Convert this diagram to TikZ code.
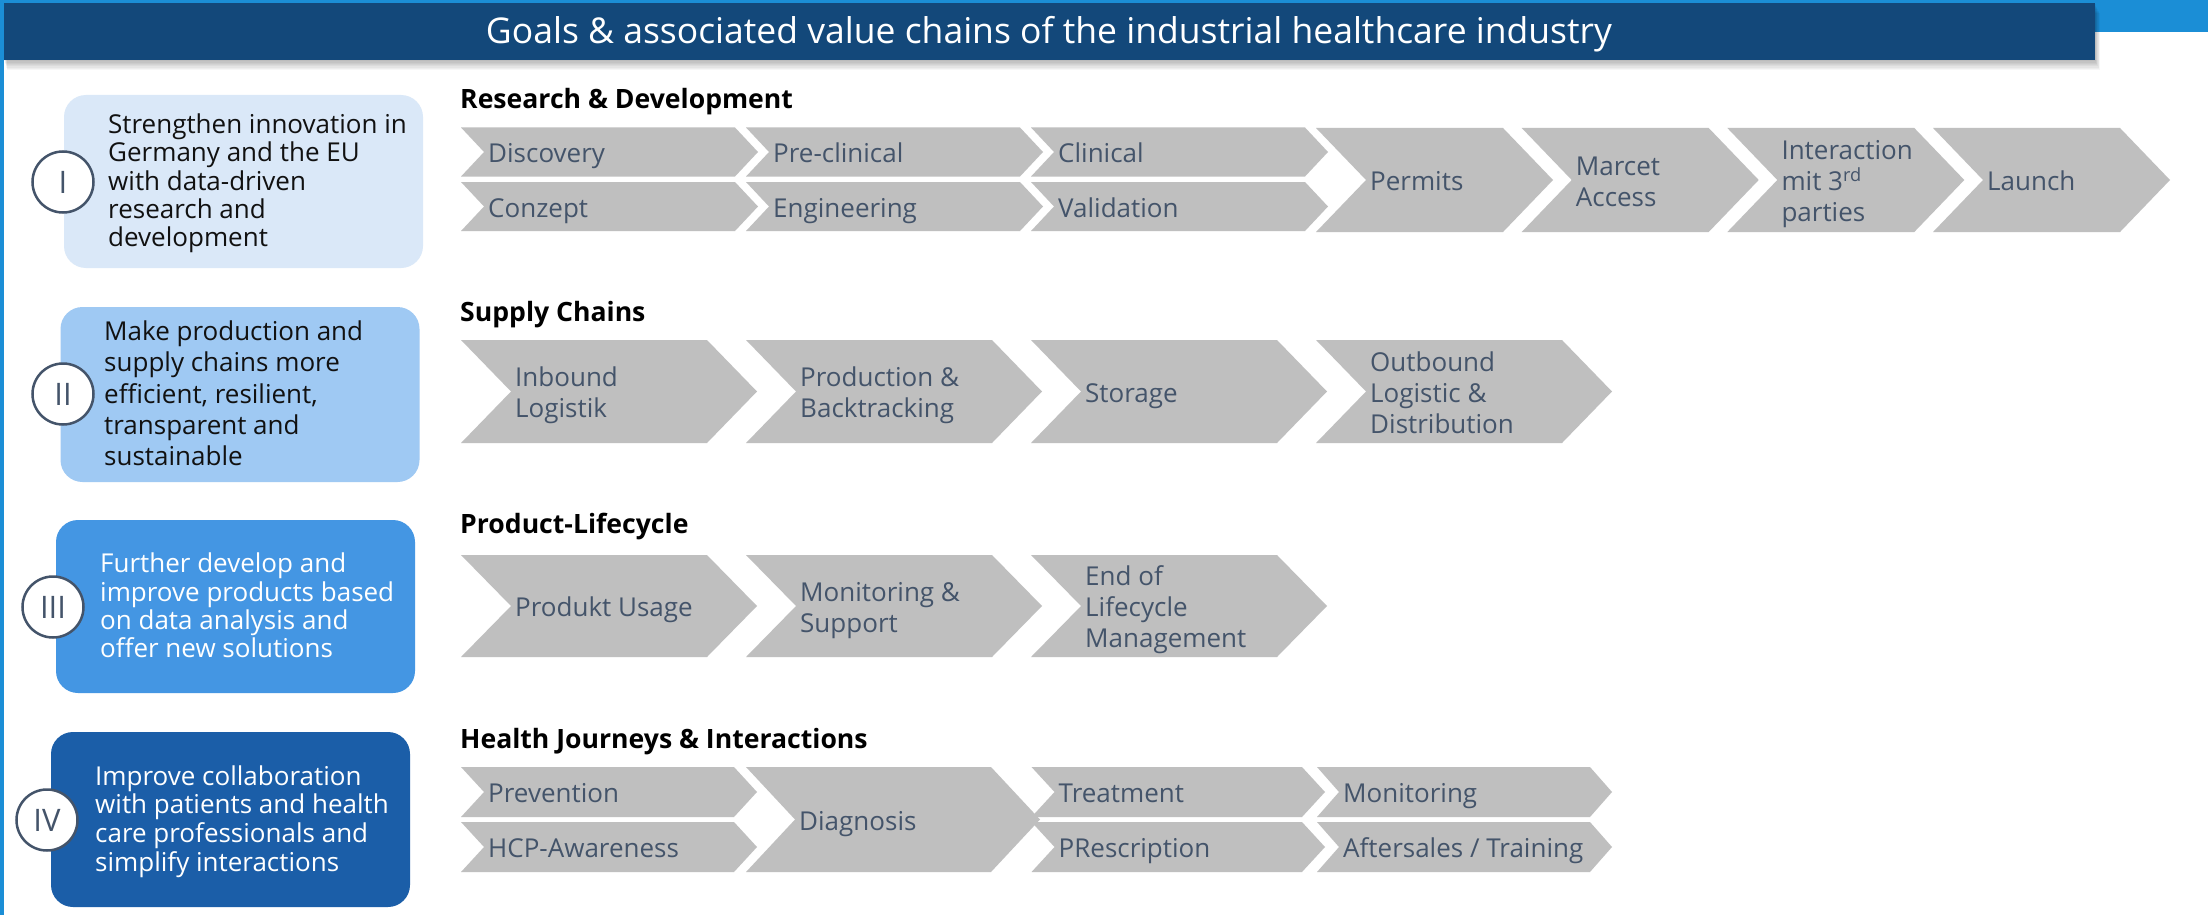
\documentclass[tikz,border=0pt]{standalone}
\usepackage{fontspec}
\setmainfont{Open Sans}
\definecolor{stripe}{HTML}{1B8ED6}
\definecolor{banner}{HTML}{13487A}
\definecolor{gA}{HTML}{DAE8F8}
\definecolor{gB}{HTML}{9FC9F3}
\definecolor{gC}{HTML}{4496E3}
\definecolor{gD}{HTML}{1B5EA8}
\definecolor{slate}{HTML}{44546A}
\definecolor{chev}{HTML}{BFBFBF}
\definecolor{ink}{HTML}{111111}
\newcommand\sT{\rule{0pt}{20pt}}
\newcommand\sB{\rule[-6.5pt]{0pt}{6.5pt}}
% #1 name, #2 L, #3 R, #4 depth, #5 top, #6 bottom, #7 text
\newcommand\chev[7]{%
  \fill[chevfill] (#2,#5) -- (#3,#5) -- ({#3+#4},{(#5+#6)/2}) -- (#3,#6) -- (#2,#6) -- ({#2+#4},{(#5+#6)/2}) -- cycle;
  \node[chevtext] (#1) at ({#2+#4+4},{(#5+#6)/2+4}) {\sT #7\sB};
}
\begin{document}
\begin{tikzpicture}[x=1pt,y=-1pt,
  chevfill/.style={fill=chev},
  chevtext/.style={anchor=west, inner sep=0pt, align=left, text=slate, font=\fontsize{26}{31}\selectfont},
  goalbox/.style={rounded corners=22pt, inner sep=0pt, minimum width=359pt},
  goaltext/.style={anchor=west, inner sep=0pt, align=left},
  numcirc/.style={circle, draw=slate, line width=2.5pt, fill=white, minimum size=61pt, inner sep=0pt, text=slate, font=\fontsize{31}{31}\selectfont},
  hdr/.style={anchor=base west, inner sep=0pt, text=black, font=\bfseries\fontsize{26.6}{30}\selectfont}
]
\useasboundingbox (0,0) rectangle (2208,915);
\fill[white] (0,0) rectangle (2208,915);
% frame stripes
\fill[stripe] (0,0) rectangle (4,915);
\fill[stripe] (0,0) rectangle (2208,3);
\fill[stripe] (2095,0) rectangle (2208,32);
% banner shadow
\foreach \k in {1,...,8}
  \fill[black,opacity=0.035] ({4+\k*0.4},{3+\k*1.3}) rectangle ({2095+\k*0.6},{60+\k*1.3});
\fill[banner] (4,3) rectangle (2095,60);
\node[anchor=base, text=white, inner sep=0pt, font=\fontsize{35.5}{40}\selectfont] (title) at (1049,43.5)
  {Goals \& associated value chains of the industrial healthcare industry};

% goal boxes
\node[goalbox, fill=gA, minimum height=173pt] (g1) at (243.5,181.5) {};
\node[goalbox, fill=gB, minimum height=175pt] (g2) at (240,394.5) {};
\node[goalbox, fill=gC, minimum height=173pt] (g3) at (235.5,606.5) {};
\node[goalbox, fill=gD, minimum height=175pt] (g4) at (230.5,819.5) {};

\node[goaltext, text=ink, font=\fontsize{26}{28.3}\selectfont] (t1) at (108,183.5)
  {\sT Strengthen innovation in\\Germany and the EU\\with data-driven\\research and\\development\sB};
\node[goaltext, text=ink, font=\fontsize{26}{31.3}\selectfont] (t2) at (104,396.5)
  {\sT Make production and\\supply chains more\\efficient, resilient,\\transparent and\\sustainable\sB};
\node[goaltext, text=white, font=\fontsize{26}{28.3}\selectfont] (t3) at (100,608.5)
  {\sT Further develop and\\improve products based\\on data analysis and\\offer new solutions\sB};
\node[goaltext, text=white, font=\fontsize{26}{28.6}\selectfont] (t4) at (95,821.5)
  {\sT Improve collaboration\\with patients and health\\care professionals and\\simplify interactions\sB};

\node[numcirc] (n1) at (63,182) {I};
\node[numcirc] (n2) at (63,394) {II};
\node[numcirc] (n3) at (53,607) {III};
\node[numcirc] (n4) at (47,820) {IV};

% headers
\node[hdr] (h1) at (460,108.3) {Research \& Development};
\node[hdr] (h2) at (460,321.7) {Supply Chains};
\node[hdr] (h3) at (460,533.3) {Product-Lifecycle};
\node[hdr] (h4) at (460,748.3) {Health Journeys \& Interactions};

% row 1
\chev{discovery}{461}{735}{23}{127.5}{176.5}{Discovery}
\chev{preclin}{746}{1020}{23}{127.5}{176.5}{Pre-clinical}
\chev{clinical}{1031}{1305}{23}{127.5}{176.5}{Clinical}
\chev{conzept}{461}{735}{23}{182}{231}{Conzept}
\chev{engineering}{746}{1020}{23}{182}{231}{Engineering}
\chev{validation}{1031}{1305}{23}{182}{231}{Validation}
\chev{permits}{1316}{1503}{50}{128}{232}{Permits}
\chev{marcet}{1521.7}{1708.7}{50}{128}{232}{Marcet\\Access}
\chev{interaction}{1727.3}{1914.3}{50}{128}{232}{Interaction\\mit 3\textsuperscript{rd}\\parties}
\chev{launch}{1933}{2120}{50}{128}{232}{Launch}

% row 2
\chev{inbound}{461}{707}{50}{340}{443}{Inbound\\Logistik}
\chev{production}{746}{992}{50}{340}{443}{Production \&\\Backtracking}
\chev{storage}{1031}{1277}{50}{340}{443}{Storage}
\chev{outbound}{1316}{1562}{50}{340}{443}{Outbound\\Logistic \&\\Distribution}

% row 3
\chev{usage}{461}{707}{50}{555}{657}{Produkt Usage}
\chev{monsupport}{746}{992}{50}{555}{657}{Monitoring \&\\Support}
\chev{eol}{1031}{1277}{50}{555}{657}{End of\\Lifecycle\\Management}

% row 4
\chev{prevention}{461}{734}{23}{767}{817}{Prevention}
\chev{hcp}{461}{734}{23}{822}{872}{HCP-Awareness}
\chev{diagnosis}{746}{991}{49}{767}{872}{Diagnosis}
\chev{treatment}{1031.5}{1302}{23}{767}{817}{Treatment}
\chev{prescription}{1031.5}{1302}{23}{822}{872}{PRescription}
\chev{monitoring}{1317}{1590}{22}{767}{817}{Monitoring}
\chev{aftersales}{1317}{1590}{22}{822}{872}{Aftersales / Training}
\end{tikzpicture}
\end{document}
